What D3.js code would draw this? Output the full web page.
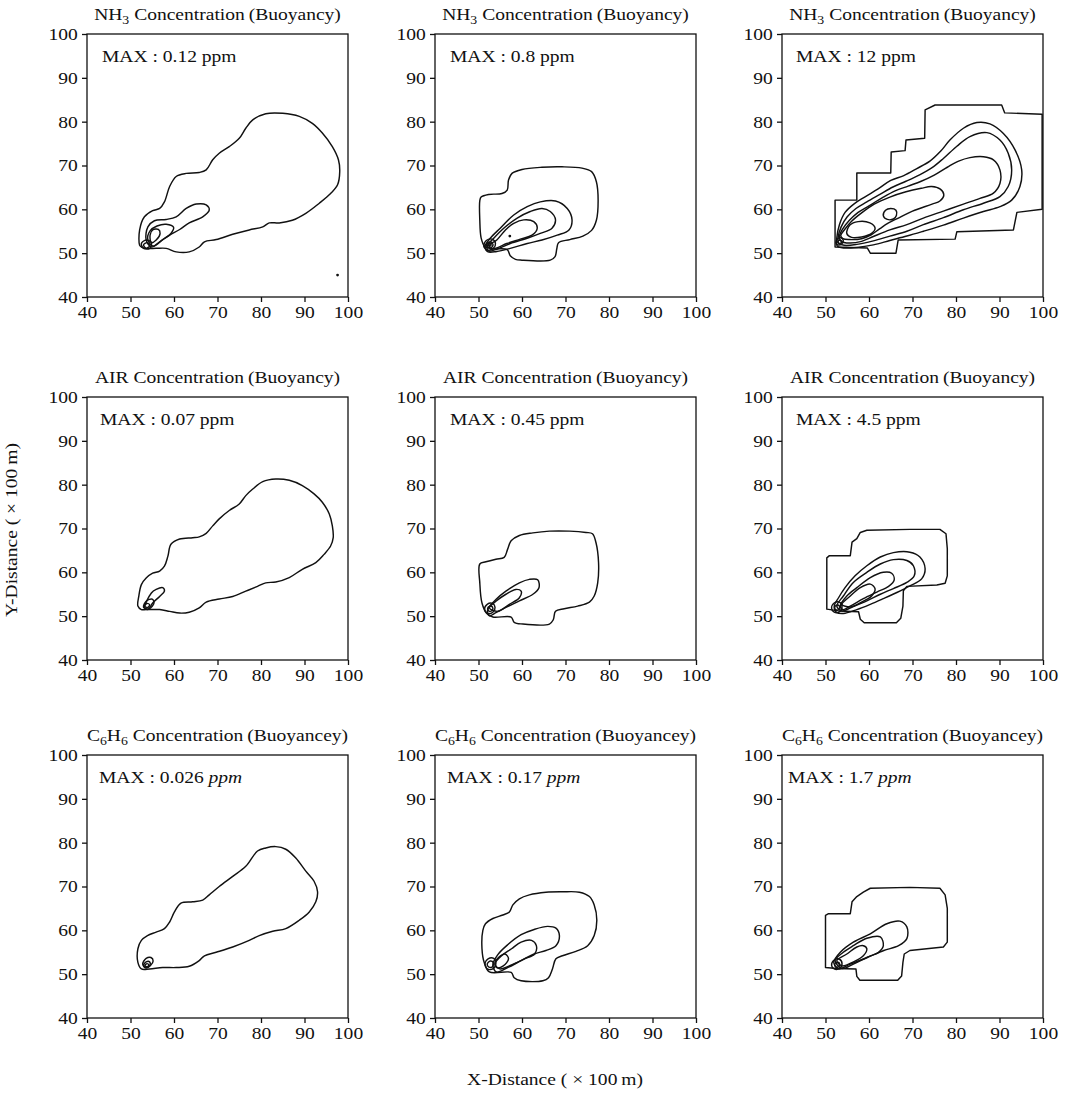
<!DOCTYPE html>
<html lang="en">
<head>
<meta charset="utf-8">
<title>Buoyancy concentration contours</title>
<script src="https://d3js.org/d3.v7.min.js"></script>
<style>
  body { margin: 0; background: #fff; }
  svg text { font-family: "Liberation Serif", "Times New Roman", serif; font-size: 17px; fill: #111; }
  .contour { fill: none; stroke: #111; stroke-width: 1.45px; stroke-linejoin: round; }
  .frame { fill: none; stroke: #111; stroke-width: 1.3px; }
  .axis line { stroke: #111; stroke-width: 1.3px; }
  .axis path { stroke: none; }
</style>
</head>
<body>
<div id="chart"></div>
<script>
// ---- data (x, y in units of 100 m) ----
var xTicks = [40, 50, 60, 70, 80, 90, 100];
var yTicks = [40, 50, 60, 70, 80, 90, 100];

var speciesNames = [[['NH', 0], ['3', 1]], [['AIR', 0]], [['C', 0], ['6', 1], ['H', 0], ['6', 1]]];
var titleTails = ['Concentration\u2009(Buoyancy)', 'Concentration\u2009(Buoyancy)', 'Concentration\u2009(Buoyancey)'];
var maxValues = [['0.12', '0.8', '12'], ['0.07', '0.45', '4.5'], ['0.026', '0.17', '1.7']];

// NH3, MAX 0.12
var nh3Low1 = [[52.1,51.8],[52.1,55.3],[53.2,58.3],[55.1,59.7],[56.7,60.2],[57.8,61.7],[59.0,65.2],[60.5,67.5],[62.8,68.2],[65.8,68.4],[67.4,69.0],[68.9,71.3],[70.4,72.8],[72.7,74.3],[75.0,76.2],[76.5,78.5],[78.1,80.4],[81.1,81.8],[85.0,81.9],[88.8,81.2],[91.8,79.6],[94.1,77.4],[96.4,74.3],[97.8,71.3],[98.1,68.6],[97.6,65.6],[96.0,63.6],[93.4,61.4],[90.3,59.1],[87.2,57.5],[84.2,56.9],[81.9,56.9],[80.4,56.0],[77.3,55.3],[73.5,54.3],[69.7,53.1],[67.0,52.6],[65.8,51.4],[63.5,50.3],[60.5,50.3],[58.2,51.1],[55.9,51.1],[53.6,51.1],[52.5,51.4]];
var nh3Low2 = [[53.6,53.0],[54.0,56.0],[55.5,57.4],[58.2,57.7],[60.5,58.3],[62.8,60.2],[65.1,61.2],[67.4,61.0],[68.1,59.8],[66.6,58.3],[63.5,56.9],[61.3,55.4],[59.0,54.1],[56.7,52.6],[54.8,51.4]];
var nh3Low3 = [[54.0,53.0],[54.5,55.1],[56.1,56.2],[58.2,56.6],[59.9,55.9],[59.3,54.5],[57.4,53.1],[55.3,51.6]];
var nh3Low4 = [[54.5,54.1],[55.1,55.3],[56.4,55.4],[56.8,54.5],[55.9,53.0],[54.8,52.4]];
var nh3Low5 = [[52.5,52.2],[53.6,53.0],[54.8,52.4],[54.4,51.1],[53.0,51.1]];
var nh3Low6 = [[53.0,51.9],[53.8,52.4],[54.4,51.7],[53.6,51.1]];
var nh3LowSpecks = [[97.6, 45.0]];

// NH3, MAX 0.8
var nh3Mid1 = [[50.3,62.0],[50.3,57.5],[50.6,53.5],[51.4,51.6],[53.0,51.0],[56.6,50.8],[57.3,49.4],[58.5,48.6],[60.0,48.4],[66.5,48.4],[67.6,49.2],[68.0,51.0],[68.4,52.4],[71.0,53.1],[74.0,53.9],[76.0,55.2],[77.1,57.5],[77.5,62.0],[77.1,66.3],[76.0,68.6],[73.8,69.4],[69.2,69.7],[64.6,69.6],[60.0,69.1],[57.7,68.2],[56.9,66.7],[56.6,64.4],[55.4,63.6],[52.3,63.4],[50.6,62.8]];
var nh3Mid2 = [[51.5,51.5],[52.7,53.4],[55.0,55.7],[58.1,58.7],[61.2,60.6],[64.2,61.7],[67.7,61.9],[70.4,60.2],[71.5,57.6],[70.8,55.3],[68.1,54.1],[64.6,53.0],[61.2,52.2],[57.3,51.1],[54.2,50.4],[52.2,50.3]];
var nh3Mid3 = [[52.0,51.6],[53.5,53.4],[55.8,55.7],[58.9,58.0],[61.9,59.5],[64.6,60.2],[66.5,59.5],[67.7,57.6],[66.9,55.7],[64.2,54.5],[61.2,53.4],[57.3,52.2],[54.2,50.9],[52.3,50.5]];
var nh3Mid4 = [[52.5,51.8],[54.2,53.0],[56.2,55.3],[58.1,56.8],[60.4,57.6],[62.7,57.2],[63.5,55.7],[62.3,54.1],[59.6,53.2],[56.5,52.2],[54.2,51.2],[52.8,51.0]];
var nh3Mid5 = [[51.2,51.6],[51.8,52.9],[53.1,53.2],[53.9,52.3],[53.4,51.1],[52.1,50.7]];
var nh3Mid6 = [[51.8,51.8],[52.4,52.5],[53.2,52.3],[53.2,51.5],[52.5,51.2]];
var nh3Mid7 = [[52.2,51.9],[52.6,52.2],[52.9,51.9],[52.6,51.6]];
var nh3MidSpecks = [[57.2, 53.9]];

// NH3, MAX 12
var nh3High1 = [[52.2,51.4],[52.2,62.1],[57.2,62.1],[57.2,68.3],[65.0,68.3],[65.1,73.1],[68.3,73.4],[68.5,75.8],[72.8,76.2],[72.9,82.7],[75.2,83.8],[90.5,83.8],[91.2,82.0],[99.8,81.7],[99.8,60.0],[94.0,59.3],[93.2,55.3],[80.2,54.9],[79.8,53.2],[66.7,53.0],[66.2,50.0],[60.3,50.0],[59.6,51.2]];
var nh3High2 = [[52.6,53.5],[53.2,56.5],[54.5,59.3],[56.5,61.2],[59.0,62.8],[62.0,64.6],[65.0,66.6],[68.0,67.7],[71.0,69.3],[74.0,71.0],[76.5,73.3],[78.6,75.8],[81.7,78.5],[84.8,79.8],[87.8,79.5],[90.9,77.3],[93.6,73.5],[95.1,69.0],[94.7,65.2],[92.8,62.1],[90.1,60.6],[86.3,59.5],[81.7,58.0],[77.1,56.4],[72.5,55.0],[68.7,53.9],[64.8,52.9],[61.0,51.9],[57.2,51.3],[54.1,51.2],[52.7,51.6]];
var nh3High3 = [[52.9,53.6],[53.6,56.0],[55.0,58.3],[57.0,60.2],[59.5,61.7],[62.5,63.4],[65.5,65.1],[68.5,66.4],[71.5,67.8],[74.5,69.5],[77.1,71.6],[80.2,74.4],[83.2,76.6],[87.1,77.5],[90.1,75.8],[92.0,72.8],[92.8,69.0],[92.0,65.2],[90.1,62.9],[86.3,61.4],[81.7,59.9],[77.1,58.1],[72.5,56.5],[68.7,55.0],[64.8,53.9],[61.0,52.8],[57.2,52.0],[54.3,51.8],[53.0,52.3]];
var nh3High4 = [[53.2,53.8],[54.0,55.6],[55.5,57.5],[57.5,59.3],[60.0,60.8],[63.0,62.6],[66.0,64.2],[69.0,65.3],[72.0,66.4],[75.0,67.8],[78.0,69.6],[80.6,71.0],[83.2,71.8],[86.3,72.0],[88.6,71.3],[90.1,69.0],[90.1,65.9],[88.6,63.7],[85.5,62.5],[81.7,61.2],[77.1,59.6],[72.5,58.0],[68.7,56.5],[64.8,55.3],[61.0,53.8],[58.3,52.7],[55.5,52.3],[53.6,52.7]];
var nh3High5 = [[53.5,54.0],[54.4,55.4],[56.0,57.3],[58.3,59.2],[61.2,61.2],[64.8,62.8],[68.5,64.0],[72.0,64.8],[74.4,65.2],[76.4,64.6],[77.2,63.3],[76.3,61.9],[74.5,61.2],[70.0,59.6],[66.5,57.9],[64.5,56.9],[62.5,55.6],[60.5,54.2],[58.3,53.3],[55.5,53.1],[54.0,53.3]];
var nh3High6 = [[63.3,58.5],[63.8,59.8],[65.0,60.2],[66.2,59.8],[66.3,58.6],[65.6,57.8],[64.2,57.7]];
var nh3High7 = [[54.9,54.5],[55.6,56.4],[57.5,57.2],[60.2,56.9],[61.4,55.7],[60.6,54.5],[58.3,53.7],[56.0,53.6]];
var nh3High8 = [[52.4,52.4],[52.8,53.3],[53.6,53.5],[54.1,52.8],[53.6,52.0],[52.8,51.9]];
var nh3High9 = [[52.8,52.5],[53.1,52.9],[53.6,52.9],[53.7,52.5],[53.3,52.2]];

// AIR, MAX 0.07
var airLow1 = [[51.7,52.3],[51.9,54.5],[52.5,57.2],[53.6,58.7],[55.1,59.8],[56.7,60.3],[57.8,61.4],[58.6,63.7],[59.3,66.4],[61.3,67.6],[64.3,67.9],[65.8,68.1],[67.4,68.9],[68.9,70.6],[70.4,72.2],[72.7,74.1],[75.0,75.6],[76.5,77.5],[78.1,79.0],[80.4,80.7],[83.4,81.3],[86.5,81.0],[89.5,79.8],[92.2,77.9],[94.1,76.0],[95.7,73.3],[96.4,70.6],[96.6,67.9],[96.0,66.0],[94.5,64.1],[92.6,62.2],[89.5,60.7],[86.5,58.8],[83.4,57.8],[81.1,57.6],[79.2,56.8],[76.5,55.7],[73.5,54.5],[70.4,53.9],[67.4,53.2],[65.8,51.9],[63.5,50.9],[61.3,50.7],[59.0,51.1],[56.7,51.5],[53.6,51.5],[52.5,51.5]];
var airLow2 = [[53.3,51.9],[54.8,55.3],[55.9,56.1],[57.4,56.5],[57.8,55.7],[56.7,54.5],[55.1,53.0],[54.0,51.5]];
var airLow3 = [[53.0,52.0],[53.6,53.4],[55.0,53.9],[55.4,53.0],[54.3,51.7]];
var airLow4 = [[53.2,52.3],[53.8,52.9],[54.4,52.6],[54.0,52.0]];

// AIR, MAX 0.45
var airMid1 = [[50.3,61.9],[50.3,57.6],[50.8,53.0],[51.9,50.6],[53.3,49.8],[57.5,49.8],[58.2,48.6],[60.2,48.2],[66.3,48.2],[67.2,49.2],[67.7,51.1],[69.7,51.7],[72.8,52.3],[75.5,53.2],[76.6,54.6],[77.4,57.6],[77.6,62.2],[77.0,66.8],[76.2,68.8],[74.7,69.1],[70.9,69.4],[66.3,69.4],[62.5,69.0],[59.4,68.4],[57.5,67.2],[56.7,65.3],[55.9,63.4],[54.0,63.0],[51.7,62.4]];
var airMid2 = [[52.1,51.5],[54.0,53.8],[56.3,55.7],[59.4,57.6],[61.7,58.4],[63.6,58.3],[63.9,56.5],[62.5,55.0],[59.4,53.5],[56.3,52.0],[54.0,50.8],[52.5,50.1]];
var airMid3 = [[52.5,51.9],[54.0,53.4],[56.3,55.0],[58.6,56.1],[59.8,55.7],[59.4,54.2],[57.1,52.7],[54.4,51.1]];
var airMid4 = [[51.4,51.6],[52.0,52.7],[53.2,52.9],[53.8,52.0],[53.3,50.9],[52.1,50.6]];
var airMid5 = [[52.1,51.8],[52.6,52.3],[53.2,52.1],[53.2,51.4],[52.5,51.1]];

// AIR, MAX 4.5
var airHigh1 = [[50.3,51.6],[50.3,63.3],[50.9,63.8],[55.7,63.8],[56.1,66.9],[57.2,67.7],[58.0,69.1],[59.5,69.6],[69.4,69.8],[76.3,69.8],[77.7,68.8],[78.0,65.4],[78.0,59.2],[77.5,57.5],[75.6,57.1],[68.7,56.8],[67.9,55.8],[67.8,52.3],[67.3,49.5],[66.3,48.5],[58.9,48.5],[58.0,49.3],[57.6,51.0],[53.0,51.2]];
var airHigh2 = [[52.0,52.3],[53.0,54.2],[54.5,56.5],[56.8,59.2],[59.5,61.5],[62.6,63.5],[65.6,64.5],[69.4,64.6],[71.7,63.5],[72.9,60.8],[72.1,58.5],[69.4,56.9],[66.4,55.4],[63.3,54.0],[60.3,52.7],[57.2,51.5],[54.1,50.6],[52.5,50.9]];
var airHigh3 = [[52.6,52.3],[54.1,54.6],[56.4,57.7],[59.5,60.0],[62.6,61.9],[65.6,62.9],[68.7,62.7],[70.2,61.5],[70.4,59.2],[68.7,57.7],[65.6,56.3],[62.6,55.0],[59.5,53.5],[56.4,52.2],[53.8,51.2]];
var airHigh4 = [[53.4,52.3],[54.9,54.6],[57.2,56.5],[60.3,58.8],[63.3,60.0],[65.2,59.8],[65.8,58.3],[64.5,56.8],[61.8,55.5],[58.7,54.0],[55.7,52.3],[54.0,51.5]];
var airHigh5 = [[53.8,52.7],[55.7,54.6],[58.0,56.5],[60.3,57.3],[61.4,56.2],[60.6,54.6],[58.3,53.2],[55.7,52.1]];
var airHigh6 = [[51.4,51.8],[52.0,53.0],[53.2,53.2],[53.8,52.2],[53.2,51.0],[52.0,50.9]];
var airHigh7 = [[52.1,52.0],[52.6,52.5],[53.2,52.3],[53.1,51.6],[52.5,51.4]];

// C6H6, MAX 0.026
var benLow1 = [[51.7,52.7],[51.7,55.8],[52.5,57.7],[53.9,58.8],[55.9,59.6],[57.8,60.4],[59.0,61.9],[60.1,64.2],[61.6,66.2],[64.3,66.5],[66.6,66.9],[68.1,68.1],[70.4,70.0],[73.5,72.3],[76.5,74.6],[79.2,78.1],[81.1,78.8],[83.4,79.1],[85.7,78.5],[88.0,76.5],[90.3,73.5],[92.2,71.2],[93.0,68.8],[92.6,66.5],[91.1,64.2],[88.8,62.3],[85.7,60.4],[82.7,59.8],[79.6,58.8],[77.3,57.7],[73.5,56.2],[69.7,55.0],[67.0,54.2],[65.8,53.1],[63.5,51.8],[60.5,51.5],[57.4,51.5],[54.4,51.2],[52.5,51.2]];
var benLow2 = [[52.8,52.3],[53.6,53.6],[54.7,53.8],[55.2,53.0],[54.6,52.0],[53.5,51.4]];
var benLow3 = [[53.0,52.0],[53.6,52.8],[54.4,52.8],[54.5,52.1],[53.8,51.5]];
var benLow4 = [[53.3,52.0],[53.8,52.4],[54.2,52.1],[53.8,51.7]];

// C6H6, MAX 0.17
var benMid1 = [[51.0,60.0],[50.8,55.8],[51.3,52.7],[52.5,50.5],[57.5,50.4],[58.2,49.2],[59.8,48.5],[64.8,48.5],[66.1,49.2],[67.0,51.2],[67.8,53.5],[69.3,54.2],[72.4,55.2],[75.1,56.5],[76.6,58.8],[77.2,62.3],[76.6,65.8],[75.5,67.7],[73.2,68.7],[69.3,68.8],[65.5,68.7],[61.7,68.1],[59.4,67.2],[57.9,65.8],[57.1,64.2],[55.6,63.5],[53.3,62.7],[51.6,61.5]];
var benMid2 = [[53.3,52.1],[54.4,54.4],[56.7,56.7],[59.8,59.0],[62.8,60.2],[65.9,60.9],[67.8,60.5],[68.6,58.8],[67.8,56.5],[65.5,55.4],[62.8,54.6],[59.8,53.1],[56.7,51.5],[54.1,50.5]];
var benMid3 = [[53.8,52.3],[55.3,54.2],[57.6,55.8],[59.8,57.3],[62.2,57.7],[63.3,56.5],[62.9,54.6],[60.6,53.5],[57.6,52.1],[54.9,51.2]];
var benMid4 = [[53.8,52.7],[54.6,53.8],[56.1,54.6],[56.9,53.5],[55.7,51.9],[54.2,51.5]];
var benMid5 = [[51.5,52.5],[52.2,53.5],[53.5,53.6],[54.0,52.5],[53.3,51.2],[52.0,51.2]];
var benMid6 = [[52.0,52.3],[52.7,53.0],[53.4,52.6],[53.2,51.7],[52.4,51.6]];

// C6H6, MAX 1.7
var benHigh1 = [[50.0,51.5],[50.0,63.4],[50.7,63.8],[55.7,63.8],[56.1,66.5],[57.2,67.7],[58.7,68.7],[60.3,69.6],[69.4,69.8],[76.3,69.6],[77.5,68.1],[78.0,65.0],[78.0,57.3],[77.1,56.2],[69.4,55.4],[68.1,54.6],[67.8,52.7],[67.5,49.6],[66.6,48.6],[57.9,48.6],[57.2,49.5],[57.0,51.2],[52.6,51.3]];
var benHigh2 = [[51.9,52.7],[53.4,55.0],[56.4,57.3],[60.3,59.2],[64.1,61.5],[67.1,62.1],[68.7,60.8],[68.7,58.1],[66.8,56.5],[63.4,55.4],[59.6,53.8],[55.7,52.3],[53.0,51.2]];
var benHigh3 = [[52.2,53.1],[54.1,55.0],[56.4,56.5],[59.5,58.2],[62.6,58.5],[63.3,56.5],[62.2,55.0],[59.5,53.8],[56.4,52.3],[53.8,51.3]];
var benHigh4 = [[52.6,53.1],[54.9,54.6],[57.2,56.2],[58.7,56.5],[59.5,55.8],[58.7,54.2],[56.4,52.8],[53.8,51.9]];
var benHigh5 = [[51.4,52.0],[52.0,53.2],[53.2,53.4],[53.8,52.4],[53.2,51.3],[52.0,51.2]];
var benHigh6 = [[52.1,52.2],[52.6,52.7],[53.2,52.5],[53.1,51.8],[52.5,51.6]];

var contourSets = [
    [[nh3Low1, nh3Low2, nh3Low3, nh3Low4, nh3Low5, nh3Low6],
     [nh3Mid1, nh3Mid2, nh3Mid3, nh3Mid4, nh3Mid5, nh3Mid6, nh3Mid7],
     [nh3High1, nh3High2, nh3High3, nh3High4, nh3High5, nh3High6, nh3High7, nh3High8, nh3High9]],
    [[airLow1, airLow2, airLow3, airLow4],
     [airMid1, airMid2, airMid3, airMid4, airMid5],
     [airHigh1, airHigh2, airHigh3, airHigh4, airHigh5, airHigh6, airHigh7]],
    [[benLow1, benLow2, benLow3, benLow4],
     [benMid1, benMid2, benMid3, benMid4, benMid5, benMid6],
     [benHigh1, benHigh2, benHigh3, benHigh4, benHigh5, benHigh6]]
];
var speckSets = [[nh3LowSpecks, nh3MidSpecks, []], [[], [], []], [[], [], []]];
var steppedOutlines = [nh3High1, airHigh1, benHigh1];

// ---- layout ----
var width = 1067, height = 1102;
var colLeft = [87, 435, 782];
var rowTop = [34, 397, 755];
var plotW = 261, plotH = 263;
var maxOffset = [[15, 15, 14], [13, 15, 14], [12, 12, 6]];
var stretch = 'scale(1.15,1)';

var svg = d3.select('#chart')
            .append('svg')
            .attr('width', width)
            .attr('height', height);

var smooth = d3.curveCatmullRomClosed.alpha(0.5);

function drawPanel(row, col) {
    var g = svg.append('g')
               .attr('transform', 'translate(' + colLeft[col] + ',' + rowTop[row] + ')');
    var xScale = d3.scaleLinear().domain([40, 100]).range([0, plotW]);
    var yScale = d3.scaleLinear().domain([40, 100]).range([plotH, 0]);

    var xAxis = d3.axisBottom(xScale).tickValues(xTicks).tickSize(5).tickSizeOuter(0).tickPadding(4);
    var yAxis = d3.axisLeft(yScale).tickValues(yTicks).tickSize(5).tickSizeOuter(0).tickPadding(3);

    g.append('g')
     .attr('class', 'axis')
     .attr('transform', 'translate(0,' + plotH + ')')
     .call(xAxis)
     .selectAll('text').attr('transform', stretch);
    g.append('g')
     .attr('class', 'axis')
     .call(yAxis)
     .selectAll('text').attr('transform', stretch);

    g.append('rect')
     .attr('class', 'frame')
     .attr('width', plotW)
     .attr('height', plotH);

    // title
    var title = g.append('text')
                 .attr('transform', 'translate(' + plotW / 2 + ',-14) ' + stretch)
                 .attr('text-anchor', 'middle');
    var lowered = false;
    speciesNames[row].forEach(function(p) {
        var t = title.append('tspan').text(p[0]);
        if (p[1] && !lowered) { t.attr('dy', 4).style('font-size', '12px'); lowered = true; }
        else if (p[1]) { t.style('font-size', '12px'); }
        else if (lowered) { t.attr('dy', -4); lowered = false; }
    });
    title.append('tspan').attr('dy', lowered ? -4 : 0).text(' ' + titleTails[row]);

    // max label
    var maxText = g.append('text')
                   .attr('transform', 'translate(' + maxOffset[row][col] + ',28) ' + stretch);
    maxText.append('tspan').text('MAX : ' + maxValues[row][col] + ' ');
    maxText.append('tspan').style('font-style', row === 2 ? 'italic' : 'normal').text('ppm');

    // contours
    var plot = g.append('g');
    contourSets[row][col].forEach(function(c) {
        var line = d3.line()
                     .x(function(d) { return xScale(d[0]); })
                     .y(function(d) { return yScale(d[1]); })
                     .curve(steppedOutlines.indexOf(c) >= 0 ? d3.curveLinearClosed : smooth);
        plot.append('path')
            .attr('class', 'contour')
            .attr('d', line(c));
    });
    plot.selectAll('circle')
        .data(speckSets[row][col])
        .enter()
        .append('circle')
        .attr('cx', function(d) { return xScale(d[0]); })
        .attr('cy', function(d) { return yScale(d[1]); })
        .attr('r', 1.4)
        .attr('fill', '#111');
}

for (var r = 0; r < 3; r++) {
    for (var c = 0; c < 3; c++) {
        drawPanel(r, c);
    }
}

// shared axis titles
svg.append('text')
   .attr('transform', 'translate(17,530) rotate(-90) ' + stretch)
   .attr('text-anchor', 'middle')
   .text('Y-Distance ( \u00d7 100\u2009m)');
svg.append('text')
   .attr('transform', 'translate(555,1085) ' + stretch)
   .attr('text-anchor', 'middle')
   .text('X-Distance ( \u00d7 100\u2009m)');
</script>
</body>
</html>
